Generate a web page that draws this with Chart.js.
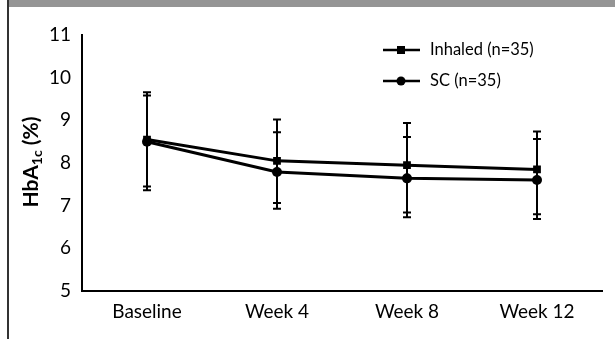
<!DOCTYPE html>
<html>
<head>
<meta charset="utf-8">
<script src="https://cdn.jsdelivr.net/npm/chart.js@4/dist/chart.umd.min.js"></script>
<style>
  body { margin: 0; background: #fff; }
  #wrap { position: relative; width: 615px; height: 339px; overflow: hidden; }
  #topBar { position: absolute; left: 8px; top: 0; width: 607px; height: 7px; background: #959595; }
  #leftRule { position: absolute; left: 7px; top: 0; width: 2px; height: 339px; background: #333; }
  #chartBox { position: absolute; left: 0; top: 0; width: 615px; height: 339px; }
</style>
</head>
<body>
<div id="wrap">
  <div id="chartBox"><canvas id="hba1cChart"></canvas></div>
  <div id="topBar"></div>
  <div id="leftRule"></div>
</div>
<script>
// data
const categories = ['Baseline', 'Week 4', 'Week 8', 'Week 12'];
const inhaledMean = [8.55, 8.05, 7.95, 7.85];
const inhaledHigh = [9.66, 9.02, 8.94, 8.74];
const inhaledLow = [7.45, 7.06, 6.84, 6.80];
const scMean = [8.50, 7.79, 7.64, 7.60];
const scHigh = [9.58, 8.72, 8.61, 8.56];
const scLow = [7.36, 6.93, 6.73, 6.69];
const yMin = 5, yMax = 11;
const legendLabels = ['Inhaled (n=35)', 'SC (n=35)'];

const fontFamily = 'Lato, "Open Sans", sans-serif';

// error bars through the library's scales
const errorBars = {
  id: 'errorBars',
  afterDatasetsDraw(chart) {
    const ctx = chart.ctx;
    const y = chart.scales.y;
    chart.data.datasets.forEach((ds, di) => {
      const meta = chart.getDatasetMeta(di);
      meta.data.forEach((pt, i) => {
        const top = y.getPixelForValue(ds.errHigh[i]);
        const bot = y.getPixelForValue(ds.errLow[i]);
        ctx.save();
        ctx.strokeStyle = '#000';
        ctx.lineWidth = 2;
        ctx.beginPath();
        ctx.moveTo(pt.x, top); ctx.lineTo(pt.x, bot);
        ctx.moveTo(pt.x - 4, top); ctx.lineTo(pt.x + 4, top);
        ctx.moveTo(pt.x - 4, bot); ctx.lineTo(pt.x + 4, bot);
        ctx.stroke();
        ctx.restore();
      });
    });
  }
};

// y title with subscript + legend box
const extras = {
  id: 'extras',
  afterDraw(chart) {
    const ctx = chart.ctx;
    ctx.save();
    // y title
    ctx.translate(31, 162);
    ctx.rotate(-Math.PI / 2);
    ctx.fillStyle = '#000';
    ctx.textBaseline = 'middle';
    const big = 'bold 21px ' + fontFamily;
    const small = 'bold 14px ' + fontFamily;
    ctx.font = big;
    const w1 = ctx.measureText('HbA').width;
    const w3 = ctx.measureText(' (%)').width;
    ctx.font = small;
    const w2 = ctx.measureText('1c').width;
    let x = -(w1 + w2 + w3) / 2;
    ctx.font = big; ctx.fillText('HbA', x, 0); x += w1;
    ctx.font = small; ctx.fillText('1c', x, 6); x += w2;
    ctx.font = big; ctx.fillText(' (%)', x, 0);
    ctx.restore();

    // legend
    ctx.save();
    const rows = [50, 81];
    chart.data.datasets.forEach((ds, i) => {
      const ly = rows[i];
      ctx.strokeStyle = '#000';
      ctx.lineWidth = 2.5;
      ctx.beginPath();
      ctx.moveTo(383, ly); ctx.lineTo(420, ly);
      ctx.stroke();
      ctx.fillStyle = '#000';
      if (ds.pointStyle === 'rect') {
        ctx.fillRect(397, ly - 4, 8, 8);
      } else {
        ctx.beginPath();
        ctx.arc(401, ly, 4.5, 0, Math.PI * 2);
        ctx.fill();
      }
      ctx.font = '16.5px ' + fontFamily;
      ctx.textBaseline = 'middle';
      ctx.fillText(legendLabels[i], 430, ly);
    });
    ctx.restore();
  }
};

const ctx = document.getElementById('hba1cChart').getContext('2d');
new Chart(ctx, {
  type: 'line',
  data: {
    labels: categories,
    datasets: [
      {
        label: legendLabels[0],
        data: inhaledMean,
        errHigh: inhaledHigh,
        errLow: inhaledLow,
        borderColor: '#000',
        backgroundColor: '#000',
        borderWidth: 3,
        pointStyle: 'rect',
        pointRadius: 5.5,
        pointBorderWidth: 0,
        tension: 0
      },
      {
        label: legendLabels[1],
        data: scMean,
        errHigh: scHigh,
        errLow: scLow,
        borderColor: '#000',
        backgroundColor: '#000',
        borderWidth: 3,
        pointStyle: 'circle',
        pointRadius: 5,
        pointBorderWidth: 0,
        tension: 0
      }
    ]
  },
  options: {
    responsive: true,
    maintainAspectRatio: false,
    animation: false,
    layout: { padding: { left: 0, top: 35, right: 13, bottom: 0 } },
    plugins: {
      legend: { display: false },
      tooltip: { enabled: false }
    },
    scales: {
      x: {
        offset: true,
        grid: { display: false, drawTicks: false },
        border: { color: '#000', width: 2 },
        ticks: { color: '#000', font: { family: fontFamily, size: 19 }, padding: 9 },
        afterFit(scale) { scale.height = 48; }
      },
      y: {
        min: yMin,
        max: yMax,
        grid: { display: false, drawOnChartArea: false, drawTicks: true, tickLength: 8, tickWidth: 2, tickColor: '#000' },
        border: { color: '#000', width: 2 },
        ticks: { stepSize: 1, color: '#000', font: { family: fontFamily, size: 19 }, padding: 3 },
        afterFit(scale) { scale.width = 82; }
      }
    }
  },
  plugins: [errorBars, extras]
});
</script>
</body>
</html>
